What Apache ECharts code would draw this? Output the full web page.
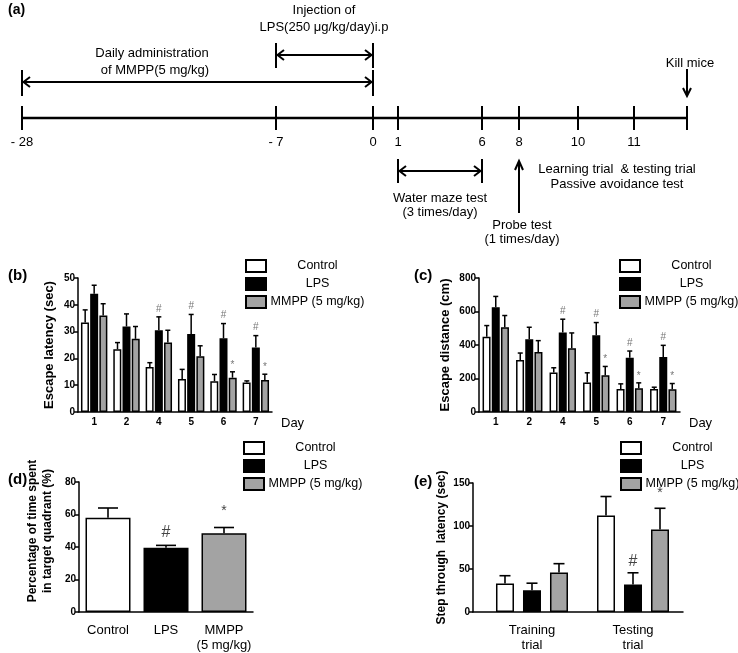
<!DOCTYPE html>
<html><head><meta charset="utf-8">
<script src="https://cdn.jsdelivr.net/npm/echarts@6/dist/echarts.min.js"></script>
<style>html,body{margin:0;padding:0;background:#fff}#c{width:738px;height:653px}</style>
</head><body><div id="c"></div>
<script>
// ---------- DATA ----------
const groupNames = ['Control', 'LPS', 'MMPP (5 mg/kg)'];
// (a) timeline
const tlDays = ['- 28', '- 7', '0', '1', '6', '8', '10', '11'];
// (b) escape latency (sec)
const daysB = ['1', '2', '4', '5', '6', '7'];
const ctrlB = [33.4, 23.4, 16.8, 12.3, 11.5, 11.0];
const ctrlBErr = [4.7, 2.5, 1.6, 3.6, 2.5, 0.6];
const lpsB = [44.1, 31.9, 30.5, 29.1, 27.5, 24.1];
const lpsBErr = [3.2, 4.7, 5.0, 7.3, 5.5, 4.4];
const mmppB = [36.0, 27.3, 25.9, 20.8, 12.8, 11.9];
const mmppBErr = [4.4, 4.6, 4.6, 3.9, 2.2, 2.2];
const lpsBMark = ['', '', '#', '#', '#', '#'];
const mmppBMark = ['', '', '', '', '*', '*'];
// (c) escape distance (cm)
const daysC = ['1', '2', '4', '5', '6', '7'];
const ctrlC = [450, 310, 236, 176, 138, 138];
const ctrlCErr = [66, 42, 28, 58, 30, 10];
const lpsC = [626, 434, 474, 458, 324, 328];
const lpsCErr = [64, 72, 80, 76, 40, 70];
const mmppC = [506, 358, 380, 220, 142, 136];
const mmppCErr = [70, 68, 92, 52, 32, 34];
const lpsCMark = ['', '', '#', '#', '#', '#'];
const mmppCMark = ['', '', '', '*', '*', '*'];
// (d) % time in target quadrant
const catsD = ['Control', 'LPS', 'MMPP\n(5 mg/kg)'];
const valsD = [58.0, 39.6, 48.4];
const errsD = [6.0, 1.4, 3.6];
const marksD = ['', '#', '*'];
// (e) step-through latency (sec)
const catsE = ['Training\ntrial', 'Testing\ntrial'];
const ctrlE = [33.2, 112.3];
const ctrlEErr = [9.0, 22.0];
const lpsE = [25.3, 32.0];
const lpsEErr = [8.2, 13.6];
const mmppE = [46.0, 96.0];
const mmppEErr = [10.2, 24.6];
const lpsEMark = ['', '#'];
const mmppEMark = ['', '*'];

// ---------- STYLE ----------
const FONT = '"Liberation Sans", Arial, sans-serif';
const fills = ['#ffffff', '#000000', '#a3a3a3'];

const chart = echarts.init(document.getElementById('c'), null, {renderer: 'canvas'});

function T(x, y, text, o) {
  o = o || {};
  return {type: 'text', x: x, y: y, z: 10, style: {
    text: text, fill: '#000',
    font: (o.bold ? 'bold ' : '') + (o.size || 13) + 'px ' + FONT,
    textAlign: o.align || 'center', align: o.align || 'center',
    textVerticalAlign: 'middle', verticalAlign: 'middle'}};
}
function L(x1, y1, x2, y2, w) {
  return {type: 'line', z: 10, shape: {x1: x1, y1: y1, x2: x2, y2: y2}, style: {stroke: '#000', lineWidth: w || 2}};
}
function P(pts, w) {
  return {type: 'polyline', z: 10, shape: {points: pts}, style: {stroke: '#000', fill: null, lineWidth: w || 2}};
}
function dblArrow(x1, x2, y, yTop, yBot) {
  return [L(x1, y, x2, y, 2.2), P([[x1 + 8, y - 5], [x1 + 1.5, y], [x1 + 8, y + 5]]),
    P([[x2 - 8, y - 5], [x2 - 1.5, y], [x2 - 8, y + 5]]), L(x1, yTop, x1, yBot, 2), L(x2, yTop, x2, yBot, 2)];
}

// timeline layout
const tlX = [22, 276, 373, 398, 482, 519, 578, 634];
const tlEnd = 687, tlY = 118;
let g = [];
g.push(T(8, 10, '(a)', {bold: true, size: 14, align: 'left'}));
g.push(L(tlX[0], tlY, tlEnd, tlY, 2.5));
tlX.concat([tlEnd]).forEach(x => g.push(L(x, tlY - 12, x, tlY + 12, 2)));
tlDays.forEach((d, i) => g.push(T(tlX[i], 142, d)));
g.push(T(324, 10, 'Injection of'));
g.push(T(324, 27, 'LPS(250 \u03bcg/kg/day)i.p'));
g = g.concat(dblArrow(tlX[1], tlX[2], 55, 43, 68));
g.push(T(152, 53, 'Daily administration'));
g.push(T(155, 70, 'of MMPP(5 mg/kg)'));
g = g.concat(dblArrow(tlX[0], tlX[2], 82, 70, 96));
g.push(T(690, 63, 'Kill mice'));
g.push(L(tlEnd, 69, tlEnd, 96, 2)); g.push(P([[tlEnd - 4, 88], [tlEnd, 96], [tlEnd + 4, 88]]));
g = g.concat(dblArrow(tlX[3], tlX[4], 171, 159, 183));
g.push(T(440, 198, 'Water maze test'));
g.push(T(440, 212, '(3 times/day)'));
g.push(L(tlX[5], 213, tlX[5], 162, 2)); g.push(P([[tlX[5] - 4, 170], [tlX[5], 161], [tlX[5] + 4, 170]]));
g.push(T(522, 225, 'Probe test'));
g.push(T(522, 239, '(1 times/day)'));
g.push(T(617, 169, 'Learning trial  & testing trial'));
g.push(T(617, 184, 'Passive avoidance test'));
// panel letters
g.push(T(8, 276, '(b)', {bold: true, size: 15, align: 'left'}));
g.push(T(414, 276, '(c)', {bold: true, size: 15, align: 'left'}));
g.push(T(8, 480, '(d)', {bold: true, size: 15, align: 'left'}));
g.push(T(414, 482, '(e)', {bold: true, size: 15, align: 'left'}));

// ---------- helpers for panels ----------
function errSeries(gi, means, errs, marks, k, cfg) {
  return {
    type: 'custom', xAxisIndex: gi, yAxisIndex: gi, z: 4, silent: true,
    encode: {x: 0, y: [1, 2]},
    data: means.map((m, i) => [i, m + errs[i], m]),
    renderItem: function (params, api) {
      const i = api.value(0);
      const pm = api.coord([i, api.value(2)]);
      const pt = api.coord([i, api.value(1)]);
      const x = pm[0] + (k - 1) * cfg.step;
      const ch = [
        {type: 'line', shape: {x1: x, y1: pm[1], x2: x, y2: pt[1]}, style: {stroke: '#000', lineWidth: cfg.lw}},
        {type: 'line', shape: {x1: x - cfg.cap / 2, y1: pt[1], x2: x + cfg.cap / 2, y2: pt[1]}, style: {stroke: '#000', lineWidth: cfg.lw}}
      ];
      const mk = marks ? marks[i] : '';
      if (mk) {
        ch.push({type: 'text', style: {text: mk, x: x, y: pt[1] - (mk === '*' ? cfg.starGap : cfg.hashGap),
          font: (mk === '*' ? cfg.starFont : cfg.hashFont), fill: cfg.markColor,
          textAlign: 'center', align: 'center', textVerticalAlign: 'bottom', verticalAlign: 'bottom'}});
      }
      return {type: 'group', children: ch};
    }
  };
}
function barSeries(gi, k, data, bw, gap) {
  return {type: 'bar', name: groupNames[k], xAxisIndex: gi, yAxisIndex: gi, data: data,
    barWidth: bw, barGap: gap, silent: true, animation: false,
    itemStyle: {color: fills[k], borderColor: '#000', borderWidth: 1.5}};
}
function legend(left, top) {
  return {left: left, top: top, padding: 0, orient: 'vertical', itemWidth: 20, itemHeight: 12, itemGap: 4,
    icon: 'rect', selectedMode: false, data: groupNames,
    formatter: '{a|{name}}',
    textStyle: {rich: {a: {width: 93, align: 'center', fontSize: 12.5, fontFamily: FONT, color: '#000'}}}};
}
const axLine = {lineStyle: {color: '#000', width: 1.5}};
function yAx(gi, max, interval, name, gap, nameSize, pad) {
  return {type: 'value', gridIndex: gi, min: 0, max: max, interval: interval,
    name: name, nameLocation: 'middle', nameGap: gap,
    nameTextStyle: {fontFamily: FONT, fontWeight: 'bold', fontSize: nameSize, color: '#000', lineHeight: 15,
      padding: pad || 0},
    axisLine: Object.assign({show: true, onZero: false}, axLine), axisTick: {show: true, length: 4, lineStyle: {color: '#000', width: 1.5}},
    axisLabel: {fontFamily: FONT, fontWeight: 'bold', fontSize: 10, color: '#000', margin: 3},
    splitLine: {show: false}};
}
const bigLabel = {fontFamily: FONT, fontSize: 13, color: '#000', margin: 11, lineHeight: 15, interval: 0};
function xAx(gi, cats, big, dayName) {
  const o = {type: 'category', gridIndex: gi, data: cats,
    axisLine: axLine, axisTick: {show: false},
    axisLabel: big ? bigLabel
                   : {fontFamily: FONT, fontWeight: 'bold', fontSize: 10, color: '#000', margin: 5, interval: 0}};
  if (dayName) {
    o.name = 'Day'; o.nameLocation = 'end'; o.nameGap = 9;
    o.nameTextStyle = {fontFamily: FONT, fontSize: 13, color: '#000', verticalAlign: 'top', padding: [5, 0, 0, 0]};
  }
  return o;
}
// panel (e): value-type x axis so the axis line starts at the y axis while groups sit where the reference has them
const xAxE = {type: 'value', gridIndex: 3, min: -0.584, max: 1.495,
  axisLine: Object.assign({onZero: false}, axLine), axisTick: {show: false}, splitLine: {show: false},
  axisLabel: Object.assign({}, bigLabel, {customValues: [0, 1], formatter: v => catsE[Math.round(v)] || ''})};

const smallCfg = {lw: 1.5, cap: 5, step: 9, hashGap: 3, starGap: 2, hashFont: '10px ' + FONT, starFont: '10px ' + FONT, markColor: '#777'};
const cfgD = {lw: 1.6, cap: 20, step: 0, hashGap: 5, starGap: 9, hashFont: '16px ' + FONT, starFont: '14px ' + FONT, markColor: '#444'};
const cfgE = {lw: 1.6, cap: 11, step: 27, hashGap: 3, starGap: 8, hashFont: '16px ' + FONT, starFont: '14px ' + FONT, markColor: '#444'};

const oneHot = (v, i) => v.map((x, j) => (j === i ? x : '-'));
const pairs = v => v.map((x, i) => [i, x]);

const option = {
  animation: false,
  backgroundColor: '#fff',
  textStyle: {fontFamily: FONT},
  graphic: {elements: g},
  legend: [legend(245, 259), legend(619, 259), legend(243, 441), legend(620, 441)],
  grid: [
    {left: 78, top: 278, width: 194, height: 134},
    {left: 479, top: 278, width: 201, height: 134},
    {left: 79, top: 482, width: 174, height: 133},
    {left: 473, top: 483, width: 210, height: 133}
  ],
  xAxis: [xAx(0, daysB, false, true), xAx(1, daysC, false, true), xAx(2, catsD, true), xAxE],
  yAxis: [
    yAx(0, 50, 10, 'Escape latency (sec)', 21, 13),
    yAx(1, 800, 200, 'Escape distance (cm)', 26, 13),
    yAx(2, 80, 20, 'Percentage of time spent\nin target quadrant (%)', 24, 12, [0, 0, 0, 32]),
    yAx(3, 150, 50, 'Step through  latency (sec)', 17, 12)
  ],
  series: [
    barSeries(0, 0, ctrlB, 8, '15%'), barSeries(0, 1, lpsB, 8, '15%'), barSeries(0, 2, mmppB, 8, '15%'),
    errSeries(0, ctrlB, ctrlBErr, null, 0, smallCfg), errSeries(0, lpsB, lpsBErr, lpsBMark, 1, smallCfg),
    errSeries(0, mmppB, mmppBErr, mmppBMark, 2, smallCfg),
    barSeries(1, 0, ctrlC, 8, '15%'), barSeries(1, 1, lpsC, 8, '15%'), barSeries(1, 2, mmppC, 8, '15%'),
    errSeries(1, ctrlC, ctrlCErr, null, 0, smallCfg), errSeries(1, lpsC, lpsCErr, lpsCMark, 1, smallCfg),
    errSeries(1, mmppC, mmppCErr, mmppCMark, 2, smallCfg),
    barSeries(2, 0, oneHot(valsD, 0), 45, '-100%'), barSeries(2, 1, oneHot(valsD, 1), 45, '-100%'),
    barSeries(2, 2, oneHot(valsD, 2), 45, '-100%'),
    errSeries(2, valsD, errsD, marksD, 1, cfgD),
    barSeries(3, 0, pairs(ctrlE), 18, '50%'), barSeries(3, 1, pairs(lpsE), 18, '50%'), barSeries(3, 2, pairs(mmppE), 18, '50%'),
    errSeries(3, ctrlE, ctrlEErr, null, 0, cfgE), errSeries(3, lpsE, lpsEErr, lpsEMark, 1, cfgE),
    errSeries(3, mmppE, mmppEErr, mmppEMark, 2, cfgE)
  ]
};
chart.setOption(option);
</script></body></html>
